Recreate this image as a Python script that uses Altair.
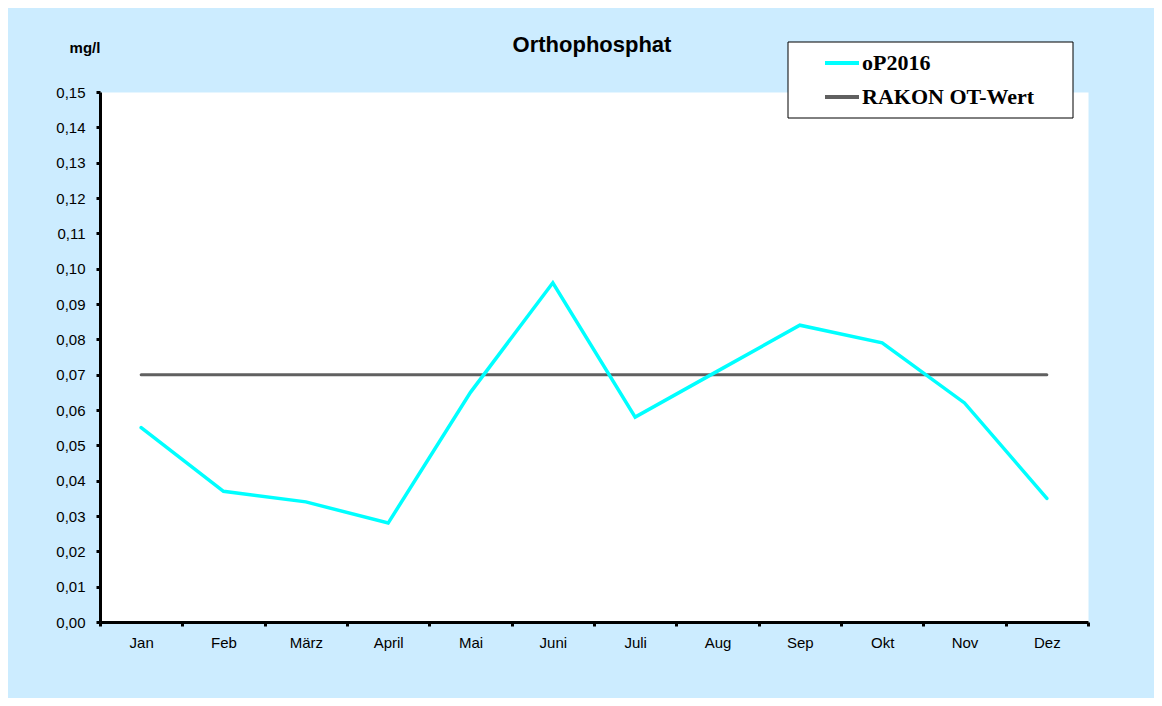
import altair as alt
import pandas as pd

months = ["Jan", "Feb", "März", "April", "Mai", "Juni", "Juli", "Aug", "Sep", "Okt", "Nov", "Dez"]
op2016 = [0.055, 0.037, 0.034, 0.028, 0.065, 0.096, 0.058, 0.071, 0.084, 0.079, 0.062, 0.035]
rakon = [0.07, 0.07, 0.07, 0.07, 0.07, 0.07, 0.07, 0.07, 0.07, 0.07, 0.07, 0.07]
series_names = ["oP2016", "RAKON OT-Wert"]
series_colors = ["#00FFFF", "#606060"]
y_ticks = [0.00, 0.01, 0.02, 0.03, 0.04, 0.05, 0.06, 0.07, 0.08, 0.09, 0.10, 0.11, 0.12, 0.13, 0.14, 0.15]
title_text = "Orthophosphat"
unit_text = "mg/l"

df = pd.DataFrame({
    "month": months + months,
    "value": op2016 + rakon,
    "series": [series_names[0]] * len(months) + [series_names[1]] * len(months),
})
one = pd.DataFrame({"a": [0]})

color = alt.Color(
    "series:N",
    scale=alt.Scale(domain=series_names, range=series_colors),
    legend=alt.Legend(
        orient="none", direction="vertical", legendX=688, legendY=-48, title=None,
        symbolType="stroke", symbolSize=1156, symbolStrokeWidth=4, symbolOffset=35,
        labelOffset=1, labelFont="Liberation Serif", labelFontSize=22, labelLimit=400,
        labelFontWeight="bold", labelColor="black", rowPadding=4, padding=0,
    ),
)
x = alt.X(
    "month:N", sort=months, bandPosition=0.5,
    scale=alt.Scale(type="band", paddingInner=0, paddingOuter=0),
    axis=alt.Axis(title=None, labelAngle=0, tickBand="extent", labelPadding=9),
)
y = alt.Y(
    "value:Q",
    scale=alt.Scale(domain=[0, 0.15], nice=False, zero=True),
    axis=alt.Axis(
        title=None, values=y_ticks, labelOverlap=False, labelPadding=11,
        labelExpr="replace(format(datum.value, '.2f'), '.', ',')",
    ),
)

box = alt.Chart(one).mark_rect(fill="white", stroke="black", strokeWidth=1).encode(
    x=alt.value(688), x2=alt.value(973), y=alt.value(-50), y2=alt.value(26)
)
gray = alt.Chart(df).transform_filter(alt.datum.series == series_names[1]).mark_line(
    strokeWidth=3, strokeCap="round"
).encode(x=x, y=y, color=color)
cyan = alt.Chart(df).transform_filter(alt.datum.series == series_names[0]).mark_line(
    strokeWidth=3.5, strokeCap="round"
).encode(x=x, y=y, color=color)
title = alt.Chart(one).mark_text(
    text=title_text, font="Liberation Sans", fontSize=22, fontWeight="bold",
    color="black", align="center", baseline="middle"
).encode(x=alt.value(492), y=alt.value(-47))
unit = alt.Chart(one).mark_text(
    text=unit_text, font="Liberation Sans", fontSize=15, fontWeight="bold",
    color="black", align="center", baseline="middle"
).encode(x=alt.value(-15), y=alt.value(-44))

chart = alt.layer(box, gray, cyan, title, unit).properties(
    width=988, height=530,
    padding={"left": 92, "top": 84, "right": 66, "bottom": 76},
    autosize=alt.AutoSizeParams(type="none"),
    background="#CCECFF",
).configure_view(
    fill="white", stroke="transparent"
).configure_axis(
    grid=False, domainColor="black", domainWidth=3, tickColor="black", tickWidth=3,
    tickSize=4, labelFont="Liberation Sans", labelFontSize=15, labelColor="black",
)

chart.save("out.html", embed_options={"renderer": "svg", "actions": False})
